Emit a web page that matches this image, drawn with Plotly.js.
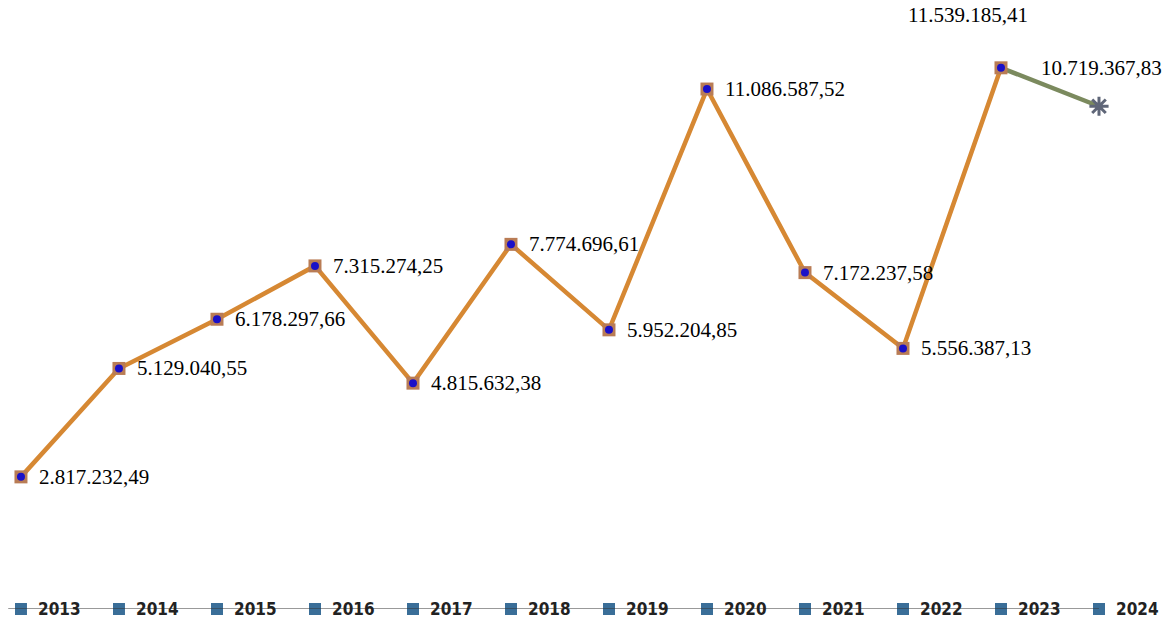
<!DOCTYPE html>
<html>
<head>
<meta charset="utf-8">
<script src="https://cdn.plot.ly/plotly-3.0.1.min.js"></script>
<style>html,body{margin:0;padding:0;background:#fff}#chart{width:1172px;height:619px}</style>
</head>
<body>
<div id="chart"></div>
<script>
const years = ['2013','2014','2015','2016','2017','2018','2019','2020','2021','2022','2023','2024'];
const values = [2817232.49, 5129040.55, 6178297.66, 7315274.25, 4815632.38, 7774696.61, 5952204.85, 11086587.52, 7172237.58, 5556387.13, 11539185.41, 10719367.83];
const valueLabels = ['2.817.232,49','5.129.040,55','6.178.297,66','7.315.274,25','4.815.632,38','7.774.696,61','5.952.204,85','11.086.587,52','7.172.237,58','5.556.387,13','11.539.185,41','10.719.367,83'];

const xs = years.map(Number);
const mainX = xs.slice(0, 11), mainY = values.slice(0, 11);
const lastX = xs.slice(10), lastY = values.slice(10);

const traces = [
  {x: mainX, y: mainY, mode: 'lines', line: {color: '#d68833', width: 4.5}, hoverinfo: 'skip'},
  {x: lastX, y: lastY, mode: 'lines', line: {color: '#7b8a5e', width: 4.5}, hoverinfo: 'skip'},
  {x: mainX, y: mainY, mode: 'markers', marker: {symbol: 'square', size: 13, color: '#b97c55'}, hoverinfo: 'skip'},
  {x: mainX, y: mainY, mode: 'markers', marker: {symbol: 'circle', size: 8, color: '#1a10c8'}, hoverinfo: 'skip'},
  {x: [xs[11]], y: [values[11]], mode: 'markers', marker: {symbol: 'asterisk-open', size: 16, color: '#5f6678', line: {color: '#5f6678', width: 3}}, hoverinfo: 'skip'},
  {x: [xs[11]], y: [values[11]], mode: 'markers', marker: {symbol: 'circle', size: 7, color: '#5f6678'}, hoverinfo: 'skip'},
  {x: xs, y: xs.map(() => 0), mode: 'markers', marker: {symbol: 'square', size: 12, color: '#3a6e98'}, cliponaxis: false, hoverinfo: 'skip'}
];

const annotations = [];
xs.forEach((xv, i) => {
  let dx = 16, dy = 0, xa = 'left';
  if (i === 10) { dx = -33; dy = 53; xa = 'center'; }
  if (i === 11) { dx = 3; dy = 38; xa = 'center'; }
  annotations.push({x: xv, y: values[i], xref: 'x', yref: 'y', text: valueLabels[i], showarrow: false,
    xanchor: xa, yanchor: 'middle', xshift: dx, yshift: dy,
    font: {family: 'Liberation Serif, Times New Roman, serif', size: 21, color: '#000'}});
  annotations.push({x: xv, y: 0, xref: 'x', yref: 'y', text: '<b>' + years[i] + '</b>', showarrow: false,
    xanchor: 'left', yanchor: 'middle', xshift: 15, yshift: 0,
    font: {family: 'Liberation Sans Narrow, DejaVu Sans Condensed, Arial Narrow, sans-serif', size: 17, color: '#222'}});
});

const layout = {
  width: 1172, height: 619,
  margin: {l: 0, r: 0, t: 0, b: 10},
  paper_bgcolor: '#fff', plot_bgcolor: '#fff',
  showlegend: false,
  xaxis: {type: 'linear', range: [2012.786, 2024.745], showgrid: false, zeroline: false, showticklabels: false, showline: false, ticks: ''},
  yaxis: {range: [0, 12985000], showgrid: false, zeroline: false, showticklabels: false, showline: false, ticks: ''},
  shapes: [{type: 'line', xref: 'x', yref: 'y', x0: 2012.87, x1: 2024, y0: 0, y1: 0, line: {color: '#333', width: 1}, layer: 'above'}],
  annotations: annotations
};

Plotly.newPlot('chart', traces, layout, {displayModeBar: false, staticPlot: true});
</script>
</body>
</html>
